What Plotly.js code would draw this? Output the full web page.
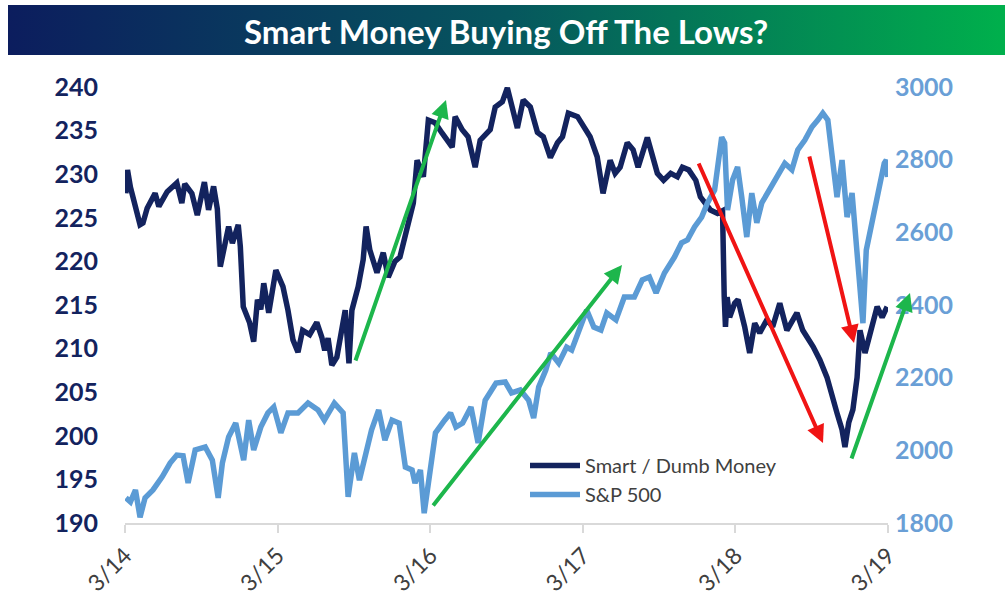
<!DOCTYPE html>
<html>
<head>
<meta charset="utf-8">
<script src="https://cdn.plot.ly/plotly-3.0.1.min.js"></script>
<style>
  html, body { margin: 0; padding: 0; background: #ffffff; }
  #chart { width: 1005px; height: 603px; }
</style>
</head>
<body>
<div id="chart"></div>
<script>
// ---------- data ----------
const chartTitle = "Smart Money Buying Off The Lows?";
const seriesNames = ["Smart / Dumb Money", "S&P 500"];

const smartDates = ['2014-03-03','2014-03-07','2014-03-14','2014-03-26','2014-04-06','2014-04-13','2014-04-23','2014-05-12','2014-05-21','2014-06-10','2014-07-03','2014-07-15','2014-07-22','2014-08-08','2014-08-21','2014-09-07','2014-09-17','2014-09-29','2014-10-08','2014-10-15','2014-10-25','2014-11-04','2014-11-13','2014-11-27','2014-12-02','2014-12-09','2014-12-24',
'2015-01-03','2015-01-12','2015-01-20','2015-01-27','2015-02-08','2015-02-25','2015-03-14','2015-03-26','2015-04-07','2015-04-19','2015-04-30','2015-05-17','2015-06-03','2015-06-15','2015-06-22','2015-06-30','2015-07-09','2015-07-21','2015-08-10','2015-08-19','2015-08-26','2015-09-10','2015-09-22','2015-09-29','2015-10-08','2015-10-25','2015-11-09','2015-11-21','2015-12-07','2015-12-19',
'2016-01-05','2016-01-20','2016-01-29','2016-02-13','2016-02-25','2016-03-12','2016-03-29','2016-04-22','2016-04-29','2016-05-16','2016-05-30','2016-06-16','2016-06-28','2016-07-22','2016-08-03','2016-08-20','2016-09-01','2016-09-13','2016-09-25','2016-10-09','2016-10-26','2016-11-12','2016-11-26','2016-12-13','2016-12-30',
'2017-01-11','2017-01-25','2017-02-16','2017-03-01','2017-03-18','2017-04-04','2017-04-18','2017-05-05','2017-05-17','2017-05-29','2017-06-15','2017-06-29','2017-07-11','2017-08-02','2017-08-14','2017-08-26','2017-09-10','2017-09-27','2017-10-13','2017-10-25','2017-11-09','2017-11-26','2017-12-07','2017-12-19','2017-12-31',
'2018-01-17','2018-01-29','2018-02-02','2018-02-05','2018-02-09','2018-02-15','2018-02-27','2018-03-07','2018-03-23','2018-04-04','2018-04-16','2018-04-28','2018-05-15','2018-05-29','2018-06-15','2018-07-02','2018-07-26','2018-08-09','2018-09-03','2018-09-19','2018-10-06','2018-10-18','2018-10-30','2018-11-11','2018-11-18','2018-11-27','2018-12-07','2018-12-17','2018-12-24',
'2019-01-05','2019-01-22','2019-02-03','2019-02-15','2019-02-27'];

const smartValues = [227.8,230.5,228.5,226,224.2,224.4,226.1,227.8,226.3,228,
229,226.7,228.9,227.8,225.3,229.1,225.9,228.6,226,219.4,
222,224,222.1,224.2,221.7,214.8,213,210.8,215.6,214.5,
217.5,214.1,219,217.1,214.4,211,209.6,212.1,211.6,213,
211.3,209.8,211.2,208.1,209,214.4,208.3,214.4,217.1,220.2,
224,221.3,218.7,221,218.2,220,220.5,224,226.7,231.6,
229.7,236.2,235.9,234.7,233.1,236.6,235.1,234.3,230.8,233.9,
235.1,237.7,238.3,239.9,237.7,235.3,238.5,237.7,234.8,234.3,
231.9,233.6,234.3,237,236.6,235.6,234.3,232,227.8,231.6,
230.1,230.8,233.6,232.8,230.8,234.2,232.4,230.1,229.3,230.1,
229.7,230.8,230.5,229.3,227.4,226.7,225.9,225.5,225.8,216,
212.5,215.9,213.6,215.2,215.6,212.5,209.5,212.9,211.8,213.3,
212.5,215.2,212.1,214.1,212.1,210.2,208.7,206.7,204.4,202.6,
200.7,198.7,201.5,203,206.7,212.1,209.5,212.5,214.8,213.6,214.8];

const spxDates = ['2014-03-03','2014-03-14','2014-03-26','2014-04-06','2014-04-18','2014-05-07','2014-05-29','2014-06-17','2014-07-03','2014-07-18','2014-07-30','2014-08-16','2014-09-09','2014-09-26','2014-10-10','2014-10-20','2014-11-04','2014-11-21','2014-12-10','2014-12-22',
'2015-01-03','2015-01-20','2015-02-06','2015-02-20','2015-03-09','2015-03-26','2015-04-19','2015-05-13','2015-06-06','2015-06-21','2015-07-15','2015-08-05','2015-08-17','2015-09-01','2015-09-13','2015-09-25','2015-10-12','2015-10-29','2015-11-13','2015-11-30','2015-12-17',
'2016-01-01','2016-01-17','2016-01-24','2016-02-06','2016-02-15','2016-02-27','2016-03-13','2016-04-04','2016-04-18','2016-05-01','2016-05-17','2016-06-06','2016-06-23','2016-07-10','2016-08-05','2016-08-27','2016-09-11','2016-10-02','2016-10-22','2016-11-03','2016-11-15','2016-12-02','2016-12-14',
'2017-01-02','2017-01-21','2017-02-02','2017-02-24','2017-03-10','2017-03-27','2017-04-13','2017-04-27','2017-05-19','2017-06-08','2017-07-02','2017-07-21','2017-08-07','2017-08-23','2017-09-12','2017-10-06','2017-10-23','2017-11-06','2017-11-23','2017-12-10','2017-12-24',
'2018-01-10','2018-01-17','2018-01-27','2018-02-03','2018-02-10','2018-02-22','2018-03-06','2018-03-16','2018-03-28','2018-04-09','2018-04-21','2018-05-03','2018-05-17','2018-06-10','2018-06-27','2018-07-14','2018-07-28','2018-08-14','2018-08-31','2018-09-14','2018-09-26','2018-10-08','2018-10-18','2018-10-30','2018-11-11','2018-11-23','2018-12-05','2018-12-17','2018-12-24','2018-12-31',
'2019-01-08','2019-01-20','2019-02-04','2019-02-20','2019-02-25','2019-02-28'];

const spxValues = [1869,1858,1891,1816,1869,1891,1927,1965,1987,1985,1910,2001,2009,1973,1869,1965,2037,2075,1973,2083,
2001,2064,2103,2119,2048,2103,2103,2130,2111,2083,2130,2103,1872,1993,1918,1973,2056,2111,2028,2083,2075,
1954,1946,1910,1946,1827,1918,2048,2083,2103,2064,2075,2119,2020,2138,2185,2188,2158,2166,2138,2089,2174,2221,2268,
2240,2284,2276,2350,2386,2339,2331,2378,2359,2422,2422,2469,2477,2433,2488,2532,2571,2579,2615,2642,2681,
2716,2772,2862,2846,2661,2744,2780,2697,2587,2708,2626,2681,2708,2752,2790,2772,2827,2854,2890,2909,2928,2909,2807,2697,2799,2642,2708,2551,2460,2350,
2551,2615,2708,2790,2799,2752];

const xTickVals = ['2014-03-01','2015-03-01','2016-03-01','2017-03-01','2018-03-01','2019-03-01'];
const xTickText = ['3/14','3/15','3/16','3/17','3/18','3/19'];
const leftTicks = [190,195,200,205,210,215,220,225,230,235,240];
const rightTicks = [1800,2000,2200,2400,2600,2800,3000];

// ---------- styling ----------
const NAVY = '#13235e';
const LIGHT = '#5b9bd5';
const GREEN = '#1db64c';
const RED = '#f01414';
const FONT = 'Lato, "Open Sans", sans-serif';

const traces = [
  {
    type: 'scatter', mode: 'lines', name: seriesNames[0],
    x: smartDates, y: smartValues, yaxis: 'y',
    line: { color: NAVY, width: 5.5, shape: 'linear' }
  },
  {
    type: 'scatter', mode: 'lines', name: seriesNames[1],
    x: spxDates, y: spxValues, yaxis: 'y2',
    line: { color: LIGHT, width: 5.5, shape: 'linear' }
  }
];

// banner gradient as an SVG image
const gradSvg = '<svg xmlns="http://www.w3.org/2000/svg" width="1000" height="50" preserveAspectRatio="none">' +
  '<defs><linearGradient id="g" x1="0" y1="0" x2="1" y2="0">' +
  '<stop offset="0" stop-color="#0c1d5e"/><stop offset="0.5" stop-color="#06565e"/><stop offset="1" stop-color="#00b04c"/>' +
  '</linearGradient></defs><rect width="1000" height="50" fill="url(#g)"/></svg>';
const gradUri = 'data:image/svg+xml;charset=utf-8,' + encodeURIComponent(gradSvg);

// plot area: left 125, right 888, top 87, bottom 523
const L = 125, R = 888, T = 87, B = 523;
const W = R - L, H = B - T;
const px = x => (x - L) / W;
const py = y => (B - y) / H;

function arrow(hx, hy, tx, ty, color) {
  return {
    xref: 'paper', yref: 'paper', x: px(hx), y: py(hy),
    ax: tx - hx, ay: ty - hy, text: '', showarrow: true,
    arrowhead: 2, arrowsize: 0.9, arrowwidth: 4, arrowcolor: color, standoff: 0
  };
}

const layout = {
  width: 1005, height: 603,
  margin: { l: L, r: 1005 - R, t: T, b: 603 - B, pad: 0 },
  paper_bgcolor: '#ffffff', plot_bgcolor: '#ffffff',
  showlegend: true,
  legend: {
    x: px(525), y: py(446), xanchor: 'left', yanchor: 'top',
    bgcolor: 'rgba(0,0,0,0)', borderwidth: 0,
    font: { family: FONT, size: 20, color: '#404040' },
    itemwidth: 50, tracegroupgap: 0
  },
  xaxis: {
    type: 'date',
    range: ['2014-03-01', '2019-03-01'],
    tickmode: 'array', tickvals: xTickVals, ticktext: xTickText,
    tickangle: -45,
    tickfont: { family: FONT, size: 23, color: '#404040' },
    ticks: 'outside', ticklen: 8, tickwidth: 2, tickcolor: '#d9d9d9',
    showline: true, linecolor: '#d9d9d9', linewidth: 2,
    showgrid: false, zeroline: false, fixedrange: true
  },
  yaxis: {
    range: [190, 240], tickmode: 'array', tickvals: leftTicks,
    tickfont: { family: FONT, size: 25, color: NAVY, weight: 'bold' },
    showgrid: false, zeroline: false, showline: false, ticks: '',
    ticklabelstandoff: 26
  },
  yaxis2: {
    range: [1800, 3000], tickmode: 'array', tickvals: rightTicks,
    overlaying: 'y', side: 'right',
    tickfont: { family: FONT, size: 25, color: '#6a9fd6', weight: 'bold' },
    showgrid: false, zeroline: false, showline: false, ticks: '',
    ticklabelstandoff: 6
  },
  images: [{
    source: gradUri, xref: 'paper', yref: 'paper',
    x: px(8), y: py(5), sizex: (1005 - 8) / W, sizey: 50 / H,
    xanchor: 'left', yanchor: 'top', sizing: 'stretch', layer: 'below'
  }],
  annotations: [
    {
      xref: 'paper', yref: 'paper', x: px(506), y: py(31),
      xanchor: 'center', yanchor: 'middle', showarrow: false,
      text: '<b>' + chartTitle + '</b>',
      font: { family: FONT, size: 33, color: '#ffffff' }
    },
    arrow(446, 100, 355, 362, GREEN),
    arrow(622, 265, 432, 507, GREEN),
    arrow(823, 443, 698, 162, RED),
    arrow(854, 343, 809, 155, RED),
    arrow(910, 293, 851, 460, GREEN)
  ]
};

Plotly.newPlot('chart', traces, layout, { displayModeBar: false, staticPlot: true });
</script>
</body>
</html>
